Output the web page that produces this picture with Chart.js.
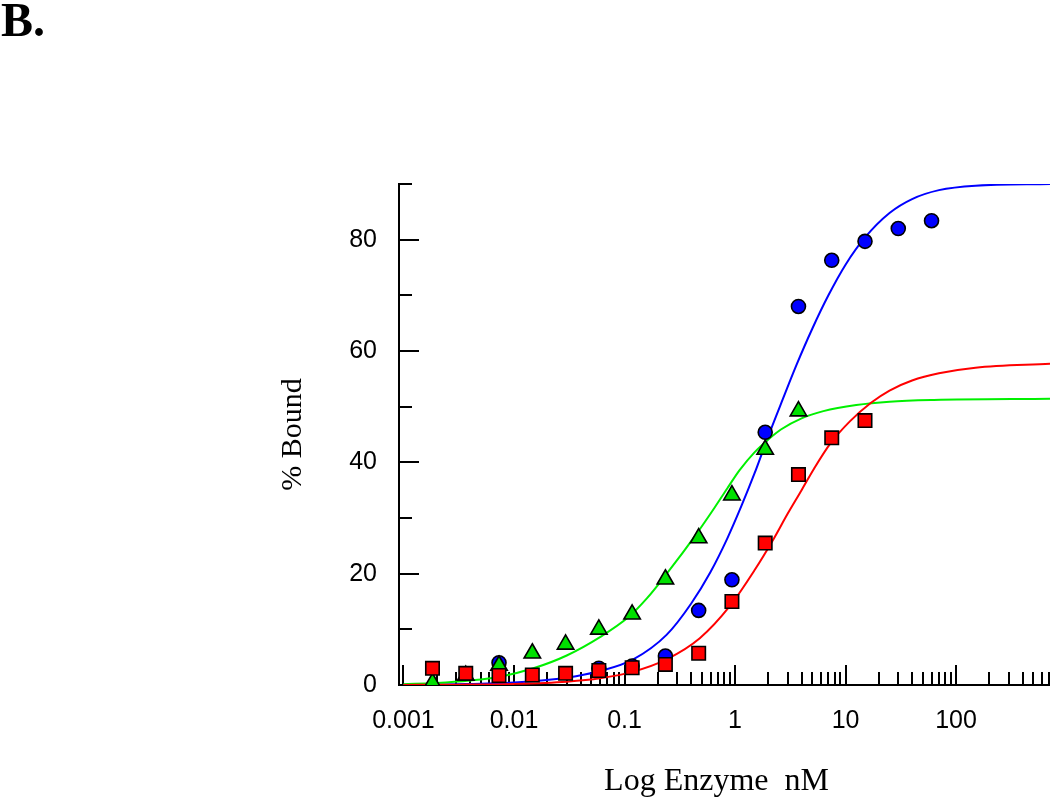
<!DOCTYPE html>
<html>
<head>
<meta charset="utf-8">
<script src="https://cdn.jsdelivr.net/npm/chart.js@4.4.1/dist/chart.umd.min.js"></script>
<style>
html, body { margin: 0; padding: 0; background: #fff; }
#wrap { position: relative; width: 1050px; height: 802px; overflow: hidden; }
#c { position: absolute; left: 0; top: 0; }
#panel { position: absolute; left: 1px; top: -4px; font: bold 48px "Liberation Serif", "Times New Roman", serif; line-height: 48px; color: #000; }
</style>
</head>
<body>
<div id="wrap">
  <canvas id="c" width="1050" height="802"></canvas>
  <div id="panel">B.</div>
</div>
<script>
// ---- data ----
const concentrationsNM = [0.00183, 0.00366, 0.00732, 0.01465, 0.0293, 0.0586, 0.1172, 0.2344, 0.4688, 0.9375, 1.875, 3.75, 7.5, 15, 30, 60];
const boundBlue  = [null, null, 4.0, null, null, 3.0, 3.4, 5.2, 13.4, 18.9, 45.4, 68.0, 76.3, 79.7, 82.0, 83.4];
const boundRed   = [3.0, 2.1, 1.7, 1.8, 2.1, 2.6, 3.1, 3.7, 5.7, 15.0, 25.5, 37.8, 44.4, 47.5, null, null];
const boundGreen = [0.4, 1.7, 3.5, 5.7, 7.3, 10.0, 12.7, 19.0, 26.4, 34.1, 42.3, 49.2, null, null, null, null];

// fitted curves
const blueCurveX  = [0.001, 0.003, 0.01, 0.03, 0.06, 0.12, 0.24, 0.4, 0.6, 0.85, 1.15, 1.5, 2.0, 2.7, 3.6, 5.0, 7.0, 10, 15, 25, 40, 70, 150, 708];
const blueCurveY  = [0.04, 0.13, 0.44, 1.3, 2.5, 4.6, 9.0, 14.6, 20.3, 26.3, 32.3, 38.0, 44.7, 51.3, 57.5, 64.0, 70.0, 75.5, 80.4, 84.8, 87.3, 88.9, 89.7, 90.0];
const redCurveX   = [0.001, 0.003, 0.01, 0.03, 0.06, 0.12, 0.24, 0.48, 0.9, 1.5, 2.2, 3.0, 4.0, 5.2, 7.3, 11, 17, 25, 40, 70, 150, 708];
const redCurveY   = [0.02, 0.06, 0.2, 0.6, 1.2, 2.4, 4.6, 8.4, 14.2, 20.6, 26.0, 30.8, 35.0, 38.9, 43.4, 47.4, 50.7, 52.9, 54.7, 56.0, 57.0, 57.7];
const greenCurveX = [0.001, 0.002, 0.004, 0.0075, 0.015, 0.03, 0.06, 0.11, 0.16, 0.25, 0.45, 0.65, 0.85, 1.1, 1.5, 2.0, 2.6, 4.0, 6.3, 12.5, 25, 63, 708];
const greenCurveY = [0.15, 0.35, 0.8, 1.5, 3.0, 5.3, 8.6, 12.3, 15.6, 20.4, 27.2, 31.8, 35.3, 38.6, 41.8, 44.1, 45.9, 47.9, 49.2, 50.3, 50.9, 51.2, 51.4];

// axis ticks
const xDecadeValues = [0.001, 0.01, 0.1, 1, 10, 100];
const xDecadeLabels = ['0.001', '0.01', '0.1', '1', '10', '100'];
const yTickValues = [0, 20, 40, 60, 80];
const yTickLabels = ['0', '20', '40', '60', '80'];

const X_MIN = 0.000911, X_MAX = 708, Y_MIN = 0, Y_MAX = 90;

function pts(xs, ys) {
  const out = [];
  xs.forEach((x, i) => { if (ys[i] !== null && ys[i] !== undefined) out.push({x: x, y: ys[i]}); });
  return out;
}

const innerTicks = {
  id: 'innerTicks',
  beforeDatasetsDraw(chart) {
    const {ctx, chartArea, scales} = chart;
    const x = scales.x, y = scales.y;
    ctx.save();
    ctx.strokeStyle = '#000';
    ctx.lineWidth = 2;
    ctx.beginPath();
    for (let v = 10; v <= Y_MAX; v += 10) {
      const py = Math.round(y.getPixelForValue(v));
      const len = (v % 20 === 0) ? 20 : 13;
      ctx.moveTo(chartArea.left, py);
      ctx.lineTo(chartArea.left + len, py);
    }
    for (let e = -3; e <= 2; e++) {
      for (let m = 1; m <= 9; m++) {
        const v = m * Math.pow(10, e);
        if (v > X_MAX) continue;
        const px = Math.round(x.getPixelForValue(v));
        const len = (m === 1) ? 20 : 13;
        ctx.moveTo(px, chartArea.bottom);
        ctx.lineTo(px, chartArea.bottom - len);
      }
    }
    ctx.stroke();
    ctx.restore();
  }
};

const tickFont = {family: '"Liberation Sans", Arial, sans-serif', size: 25, lineHeight: 1.2};
const titleFont = {family: '"Liberation Serif", "Times New Roman", serif', size: 30, lineHeight: 1.2};
const xTitleFont = {family: '"Liberation Serif", "Times New Roman", serif', size: 32, lineHeight: 1.2};

new Chart(document.getElementById('c'), {
  type: 'scatter',
  data: {
    datasets: [
      { label: 'red data', data: pts(concentrationsNM, boundRed), pointStyle: 'rect', pointRadius: 9.5, backgroundColor: '#ff0000', borderColor: '#000', pointBorderWidth: 1.6, order: 0 },
      { label: 'green data', data: pts(concentrationsNM, boundGreen), pointStyle: 'triangle', pointRadius: 9.5, backgroundColor: '#00e000', borderColor: '#000', pointBorderWidth: 1.6, order: 1 },
      { label: 'blue data', data: pts(concentrationsNM, boundBlue), pointStyle: 'circle', pointRadius: 7, backgroundColor: '#0000ff', borderColor: '#000', pointBorderWidth: 1.6, order: 2 },
      { type: 'line', label: 'red fit', data: pts(redCurveX, redCurveY), borderColor: '#ff0000', borderWidth: 2, pointRadius: 0, fill: false, cubicInterpolationMode: 'monotone', order: 3 },
      { type: 'line', label: 'green fit', data: pts(greenCurveX, greenCurveY), borderColor: '#00f000', borderWidth: 2, pointRadius: 0, fill: false, cubicInterpolationMode: 'monotone', order: 4 },
      { type: 'line', label: 'blue fit', data: pts(blueCurveX, blueCurveY), borderColor: '#0000ff', borderWidth: 2, pointRadius: 0, fill: false, cubicInterpolationMode: 'monotone', order: 5 }
    ]
  },
  options: {
    responsive: false,
    animation: false,
    devicePixelRatio: 1,
    layout: { autoPadding: false, padding: { top: 184, left: 0, right: 0, bottom: 0 } },
    plugins: { legend: { display: false }, tooltip: { enabled: false }, title: { display: false } },
    scales: {
      x: {
        type: 'logarithmic',
        min: X_MIN, max: X_MAX,
        afterFit(s) { s.height = 117; s.paddingLeft = 0; s.paddingRight = 0; },
        border: { display: true, color: '#000', width: 2 },
        grid: { display: true, drawOnChartArea: false, drawTicks: false },
        ticks: {
          autoSkip: false, maxRotation: 0, minRotation: 0, padding: 21, color: '#000', font: tickFont,
          callback(v) {
            const i = xDecadeValues.findIndex(d => Math.abs(v / d - 1) < 1e-6);
            return i >= 0 ? xDecadeLabels[i] : '';
          }
        },
        title: { display: true, text: 'Log Enzyme  nM\u00a0\u00a0', color: '#000', font: xTitleFont, padding: { top: 0, bottom: 1 } }
      },
      y: {
        type: 'linear',
        min: Y_MIN, max: Y_MAX,
        afterFit(s) { s.width = 399; s.paddingTop = 0; s.paddingBottom = 0; },
        border: { display: true, color: '#000', width: 2 },
        grid: { display: true, drawOnChartArea: false, drawTicks: false },
        ticks: {
          stepSize: 10, padding: 22, color: '#000', font: tickFont,
          callback(v) {
            const i = yTickValues.indexOf(v);
            return i >= 0 ? yTickLabels[i] : '';
          }
        },
        title: { display: true, text: '% Bound', color: '#000', font: titleFont, padding: { top: 275, bottom: 0 } }
      }
    }
  },
  plugins: [innerTicks]
});
</script>
</body>
</html>
